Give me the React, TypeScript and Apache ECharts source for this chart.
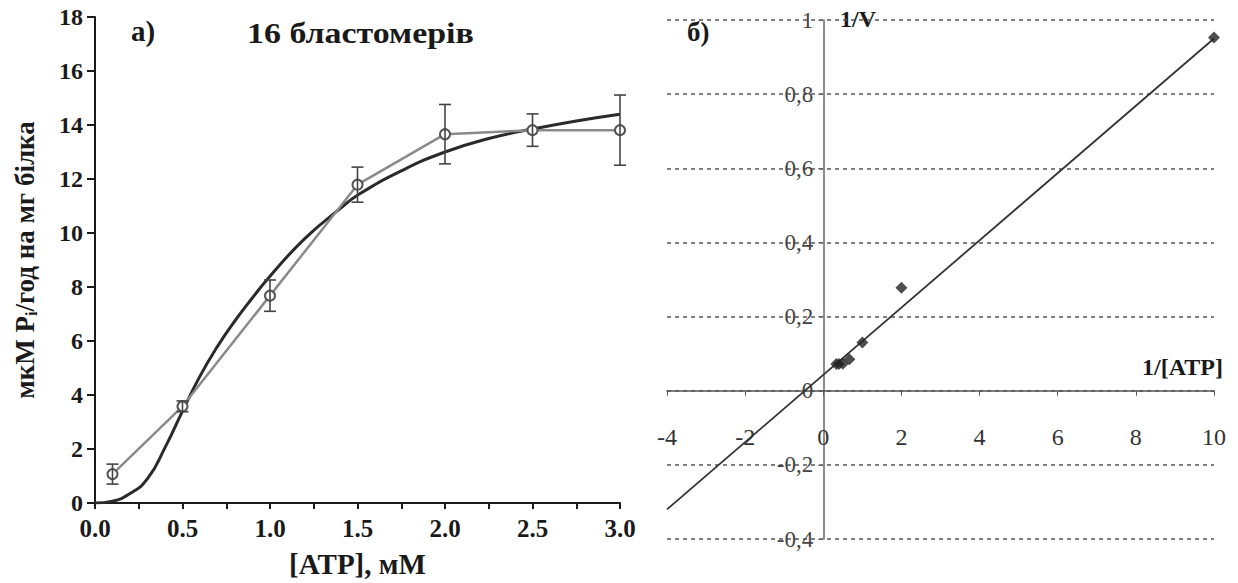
import React, { useEffect, useRef } from "react";
import * as echarts from "echarts";

// Panel a) – Michaelis–Menten type plot
const atpConc = [0.1, 0.5, 1.0, 1.5, 2.0, 2.5, 3.0];
const activity = [1.07, 3.58, 7.68, 11.79, 13.66, 13.81, 13.81];
const activityErr = [0.37, 0.2, 0.58, 0.65, 1.1, 0.6, 1.3];
const fitX = [0, 0.1, 0.2, 0.3, 0.4, 0.5, 0.6, 0.7, 0.8, 0.9, 1.0, 1.2, 1.4, 1.5, 1.75, 2.0, 2.25, 2.5, 2.75, 3.0];
const fitY = [0, 0.07, 0.35, 0.9, 2.05, 3.4, 4.7, 5.8, 6.75, 7.6, 8.4, 9.8, 10.9, 11.4, 12.3, 13.0, 13.5, 13.85, 14.15, 14.4];
const leftXTicks = ["0.0", "0.5", "1.0", "1.5", "2.0", "2.5", "3.0"];

// Panel б) – Lineweaver–Burk plot
const invAtp = [10, 2, 1, 0.667, 0.5, 0.4, 0.333];
const invV = [0.953, 0.278, 0.13, 0.085, 0.073, 0.072, 0.072];
const regrX = [-4, 10];
const regrY = [-0.32, 0.95];

const SERIF = "Liberation Serif, DejaVu Serif, serif";

// right panel geometry (grid box)
const G2 = { left: 667, top: 20, width: 547, height: 519 };
const X2 = { min: -4, max: 10 };
const Y2 = { min: -0.4, max: 1 };

export default function App() {
  const ref = useRef<HTMLDivElement>(null);

  useEffect(() => {
    if (!ref.current) return;
    const chart = echarts.init(ref.current, undefined, { renderer: "svg" });

    const errData = atpConc.map((x, i) => [x, activity[i], activityErr[i]]);

    // shift the axes of panel б) so they cross at the origin (labels included)
    const yAxisShift = -((0 - X2.min) / (X2.max - X2.min)) * G2.width;
    const xAxisShift = -((0 - Y2.min) / (Y2.max - Y2.min)) * G2.height;

    const option: any = {
      animation: false,
      backgroundColor: "#ffffff",
      grid: [
        { left: 95, top: 17, width: 525, height: 493 },
        { left: G2.left, top: G2.top, width: G2.width, height: G2.height },
      ],
      xAxis: [
        {
          gridIndex: 0,
          type: "value",
          min: 0,
          max: 3,
          interval: 0.5,
          name: "[ATP], мМ",
          nameLocation: "middle",
          nameGap: 46,
          nameTextStyle: { fontFamily: SERIF, fontWeight: "bold", fontSize: 29, color: "#1a1a1a" },
          axisLine: { lineStyle: { color: "#1a1a1a", width: 2 } },
          axisTick: { lineStyle: { color: "#1a1a1a", width: 2 }, length: 6 },
          minorTick: { show: true, splitNumber: 2, length: 6, lineStyle: { color: "#1a1a1a", width: 2 } },
          splitLine: { show: false },
          axisLabel: {
            fontFamily: SERIF,
            fontWeight: "bold",
            fontSize: 25,
            color: "#1a1a1a",
            margin: 13,
            formatter: (v: number) => leftXTicks[Math.round(v / 0.5)] ?? "",
          },
        },
        {
          gridIndex: 1,
          type: "value",
          min: X2.min,
          max: X2.max,
          interval: 2,
          position: "bottom",
          offset: xAxisShift,
          axisLine: { onZero: false, lineStyle: { color: "#555", width: 1.5 } },
          axisTick: { length: 5, lineStyle: { color: "#555" } },
          splitLine: { show: false },
          axisLabel: { fontFamily: SERIF, fontSize: 24, color: "#333", margin: 34 },
        },
      ],
      yAxis: [
        {
          gridIndex: 0,
          type: "value",
          min: 0,
          max: 18,
          interval: 2,
          name: "мкМ P{s|i}/год на мг білка",
          nameLocation: "middle",
          nameGap: 56,
          nameTextStyle: {
            fontFamily: SERIF,
            fontWeight: "bold",
            fontSize: 27,
            color: "#1a1a1a",
            rich: {
              s: { fontFamily: SERIF, fontWeight: "bold", fontSize: 16, color: "#1a1a1a", padding: [13, 0, 0, 0] },
            },
          },
          axisLine: { show: true, lineStyle: { color: "#1a1a1a", width: 2 } },
          axisTick: { show: true, length: 8, lineStyle: { color: "#1a1a1a", width: 2 } },
          splitLine: { show: false },
          axisLabel: {
            fontFamily: SERIF,
            fontWeight: "bold",
            fontSize: 24,
            color: "#1a1a1a",
            margin: 12,
          },
        },
        {
          gridIndex: 1,
          type: "value",
          min: Y2.min,
          max: Y2.max,
          interval: 0.2,
          position: "left",
          offset: yAxisShift,
          axisLine: { show: true, onZero: false, lineStyle: { color: "#666", width: 1.5 } },
          axisTick: { show: true, length: 5, lineStyle: { color: "#666" } },
          splitLine: { show: true, lineStyle: { color: "#555", type: [4, 4], width: 1.5 } },
          axisLabel: {
            fontFamily: SERIF,
            fontSize: 23,
            color: "#444",
            margin: 10,
            formatter: (v: number) => {
              const r = Math.round(v * 10) / 10;
              if (r === 0) return "0";
              if (r === 1) return "1";
              return r.toFixed(1).replace(".", ",");
            },
          },
        },
      ],
      series: [
        {
          name: "fit",
          type: "line",
          xAxisIndex: 0,
          yAxisIndex: 0,
          data: fitX.map((x, i) => [x, fitY[i]]),
          smooth: true,
          showSymbol: false,
          lineStyle: { color: "#2a2a2a", width: 3 },
          z: 3,
        },
        {
          name: "data",
          type: "line",
          xAxisIndex: 0,
          yAxisIndex: 0,
          data: atpConc.map((x, i) => [x, activity[i]]),
          symbol: "emptyCircle",
          symbolSize: 10,
          itemStyle: { color: "#555", borderWidth: 2.5 },
          lineStyle: { color: "#8a8a8a", width: 2.5 },
          z: 4,
        },
        {
          name: "err",
          type: "custom",
          xAxisIndex: 0,
          yAxisIndex: 0,
          data: errData,
          renderItem: (params: any, api: any) => {
            const x = api.value(0);
            const y = api.value(1);
            const e = api.value(2);
            const top = api.coord([x, y + e]);
            const bot = api.coord([x, y - e]);
            const w = 6;
            const style = { stroke: "#444", lineWidth: 1.6 };
            return {
              type: "group",
              children: [
                { type: "line", shape: { x1: top[0], y1: top[1], x2: bot[0], y2: bot[1] }, style },
                { type: "line", shape: { x1: top[0] - w, y1: top[1], x2: top[0] + w, y2: top[1] }, style },
                { type: "line", shape: { x1: bot[0] - w, y1: bot[1], x2: bot[0] + w, y2: bot[1] }, style },
              ],
            };
          },
          z: 5,
        },
        {
          name: "regression",
          type: "line",
          xAxisIndex: 1,
          yAxisIndex: 1,
          data: regrX.map((x, i) => [x, regrY[i]]),
          showSymbol: false,
          lineStyle: { color: "#333", width: 1.8 },
          z: 3,
        },
        {
          name: "points",
          type: "scatter",
          xAxisIndex: 1,
          yAxisIndex: 1,
          data: invAtp.map((x, i) => [x, invV[i]]),
          symbol: "diamond",
          symbolSize: 12,
          itemStyle: { color: "#222" },
          z: 4,
        },
      ],
      graphic: [
        {
          type: "text",
          left: 131,
          top: 16,
          style: { text: "а)", fontFamily: SERIF, fontWeight: "bold", fontSize: 29, fill: "#1a1a1a" },
        },
        {
          type: "text",
          x: 247,
          y: 19,
          scaleX: 1.17,
          style: {
            text: "16 бластомерів",
            x: 0,
            y: 0,
            verticalAlign: "top",
            align: "left",
            fontFamily: SERIF,
            fontWeight: "bold",
            fontSize: 29,
            fill: "#1a1a1a",
          },
        },
        {
          type: "text",
          left: 687,
          top: 18,
          style: { text: "б)", fontFamily: SERIF, fontWeight: "bold", fontSize: 27, fill: "#1a1a1a" },
        },
        {
          type: "text",
          left: 840,
          top: 7,
          style: { text: "1/V", fontFamily: SERIF, fontWeight: "bold", fontSize: 24, fill: "#1a1a1a" },
        },
        {
          type: "text",
          left: 1142,
          top: 355,
          style: { text: "1/[ATP]", fontFamily: SERIF, fontWeight: "bold", fontSize: 24, fill: "#1a1a1a" },
        },
      ],
    };

    chart.setOption(option);
    return () => chart.dispose();
  }, []);

  return (
    <div
      ref={ref}
      style={{ position: "fixed", left: 0, top: 0, width: 1238, height: 583, background: "#fff" }}
    />
  );
}
